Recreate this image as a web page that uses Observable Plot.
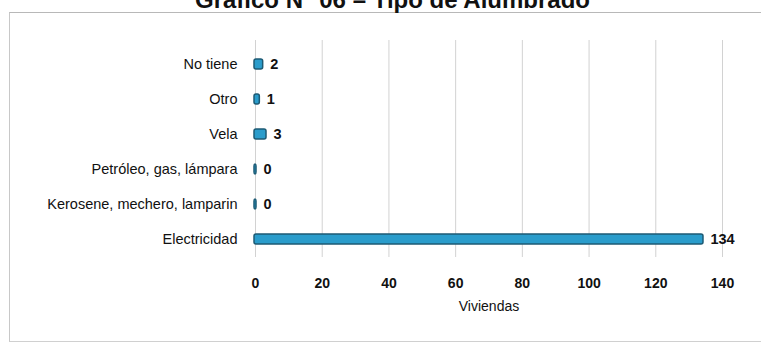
<!DOCTYPE html>
<html>
<head>
<meta charset="utf-8">
<script src="https://cdn.jsdelivr.net/npm/d3@7"></script>
<script src="https://cdn.jsdelivr.net/npm/@observablehq/plot@0.6"></script>
<style>
  html, body { margin: 0; padding: 0; background: #fff; }
  #wrap { position: relative; width: 761px; height: 342px; overflow: hidden; font-family: "Liberation Sans", Arial, sans-serif; }
  #title { position: absolute; left: 12px; width: 761px; top: -14px; text-align: center; font-weight: bold; font-size: 24px; line-height: 28px; color: #111; font-family: "Liberation Sans", Arial, sans-serif; }
  #frame { position: absolute; left: 9px; top: 12px; width: 760px; height: 328px; border-left: 1px solid #c8c8c8; border-top: 1px solid #b8b8b8; border-bottom: 1px solid #d0d0d0; }
  #chart { position: absolute; left: 0; top: 0; }
</style>
</head>
<body>
<div id="wrap">
  <div id="frame"></div>
  <div id="title">Gráfico N° 06 – Tipo de Alumbrado</div>
  <div id="chart"></div>
</div>
<script>
const categories = ["No tiene", "Otro", "Vela", "Petróleo, gas, lámpara", "Kerosene, mechero, lamparin", "Electricidad"];
const values = [2, 1, 3, 0, 0, 134];
const xTicks = [0, 20, 40, 60, 80, 100, 120, 140];

const data = categories.map((c, i) => ({ cat: c, val: values[i] }));

const chart = Plot.plot({
  width: 761,
  height: 342,
  marginLeft: 255,
  marginRight: 39,
  marginTop: 56,
  marginBottom: 96,
  style: { fontFamily: '"Liberation Sans", Arial, sans-serif', fontSize: "14px", color: "#111", background: "transparent" },
  x: { domain: [0, 140], ticks: xTicks, label: null },
  y: { domain: categories, paddingInner: 0.72, paddingOuter: 0, label: null },
  marks: [
    Plot.gridX(xTicks, { stroke: "#d2d2d2", strokeOpacity: 1, insetTop: -16, insetBottom: -11 }),
    Plot.axisX({ ticks: xTicks, tickSize: 0, tickPadding: 32, fontSize: 14, fontWeight: "bold", label: null }),
    Plot.axisX({ ticks: [], tickSize: 0, fontSize: 14, label: "Viviendas", labelAnchor: "center", labelArrow: "none", labelOffset: 64 }),
    Plot.axisY({ tickSize: 0, tickPadding: 18, fontSize: 14.5, label: null }),
    Plot.barX(data, { y: "cat", x: "val", fill: "#2a9ccb", stroke: "#1c5a74", strokeWidth: 1.5, rx: 2, insetLeft: -1, insetRight: -1 }),
    Plot.text(data, { y: "cat", x: "val", text: d => String(d.val), dx: 8, textAnchor: "start", fontSize: 14.5, fontWeight: "bold", fill: "#111" })
  ]
});
document.getElementById("chart").appendChild(chart);
</script>
</body>
</html>
